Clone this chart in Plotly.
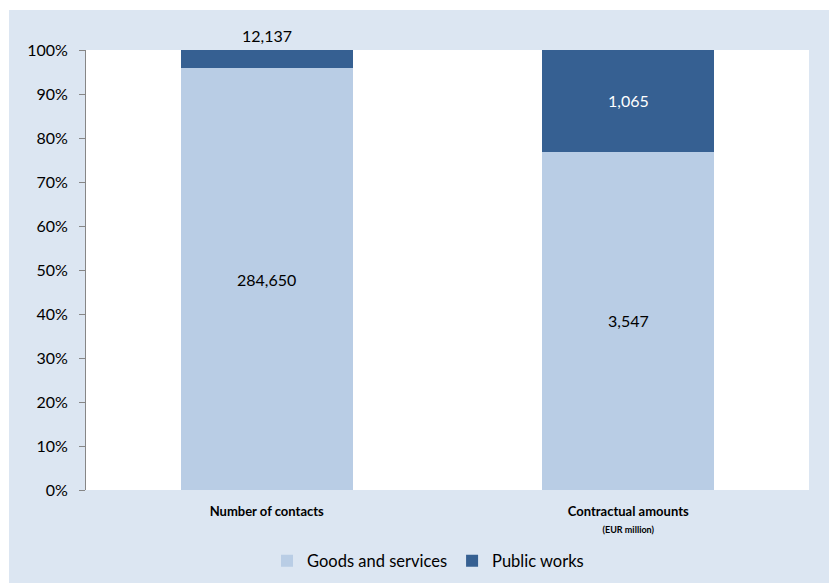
import plotly.graph_objects as go

# Values behind the chart
categories = ["Number of contacts", "Contractual amounts"]
goods_services = [284650, 3547]
public_works = [12137, 1065]
tick_vals = [0, 10, 20, 30, 40, 50, 60, 70, 80, 90, 100]
tick_text = ["0%", "10%", "20%", "30%", "40%", "50%", "60%", "70%", "80%", "90%", "100%"]
category_labels = [
    "<b>Number of contacts</b>",
    "<b>Contractual amounts</b><br><span style='font-size:9px'><b>(EUR million)</b></span>",
]

LIGHT = "#B9CDE5"
DARK = "#366092"
PANEL = "#DCE6F2"
FONT = "Lato"

totals = [g + p for g, p in zip(goods_services, public_works)]
goods_pct = [g / t * 100 for g, t in zip(goods_services, totals)]
works_pct = [p / t * 100 for p, t in zip(public_works, totals)]

fig = go.Figure()
fig.add_trace(go.Bar(
    x=categories, y=goods_pct, name="Goods and services",
    marker=dict(color=LIGHT, line=dict(width=0)),
    hoverinfo="skip",
))
fig.add_trace(go.Bar(
    x=categories, y=works_pct, name="Public works",
    marker=dict(color=DARK, line=dict(width=0)),
    hoverinfo="skip",
))

def fmt(v):
    return f"{v:,}"

annotations = []
for i, cat in enumerate(categories):
    # goods segment label in the middle of the lower block
    annotations.append(dict(
        x=cat, y=goods_pct[i] / 2, xref="x", yref="y", text=fmt(goods_services[i]),
        showarrow=False, font=dict(family=FONT, size=16, color="#000000"),
    ))
    top_h = works_pct[i]
    if top_h < 10:
        annotations.append(dict(
            x=cat, y=100, xref="x", yref="y", text=fmt(public_works[i]),
            showarrow=False, yanchor="bottom", yshift=3,
            font=dict(family=FONT, size=16, color="#000000"),
        ))
    else:
        annotations.append(dict(
            x=cat, y=goods_pct[i] + top_h / 2, xref="x", yref="y", text=fmt(public_works[i]),
            showarrow=False, font=dict(family=FONT, size=16, color="#FFFFFF"),
        ))

# outer panel and white plotting area
W, H = 829, 583
ml, mr, mt, mb = 86, 20, 50, 93
pw, ph = W - ml - mr, H - mt - mb
def px_x(p):
    return (p - ml) / pw
def px_y(p):
    return (H - mb - p) / ph

shapes = [
    dict(type="rect", xref="paper", yref="paper", layer="below",
         x0=px_x(9), x1=px_x(832), y0=px_y(10), y1=px_y(586),
         fillcolor=PANEL, line=dict(width=0)),
    dict(type="rect", xref="paper", yref="paper", layer="below",
         x0=0, x1=1, y0=0, y1=1, fillcolor="#FFFFFF", line=dict(width=0)),
]

fig.update_layout(
    width=W, height=H,
    margin=dict(l=ml, r=mr, t=mt, b=mb, pad=0, autoexpand=False),
    barmode="stack",
    bargap=0.524,
    paper_bgcolor="#FFFFFF",
    plot_bgcolor="#FFFFFF",
    font=dict(family=FONT, color="#000000"),
    shapes=shapes,
    annotations=annotations,
    showlegend=True,
    legend=dict(
        orientation="h", x=px_x(428), xanchor="center", y=px_y(561), yanchor="middle",
        font=dict(family=FONT, size=16.5, color="#000000"),
        bgcolor="rgba(0,0,0,0)", itemwidth=30, traceorder="normal",
    ),
    xaxis=dict(
        tickmode="array", tickvals=categories, ticktext=category_labels,
        tickfont=dict(family=FONT, size=13, color="#000000"),
        showline=False, showgrid=False, ticks="", ticklabelstandoff=12,
        fixedrange=True,
    ),
    yaxis=dict(
        range=[0, 100], tickmode="array", tickvals=tick_vals, ticktext=tick_text,
        tickfont=dict(family=FONT, size=16, color="#000000"),
        showline=True, linecolor="#868686", linewidth=1,
        ticks="outside", ticklen=6, tickcolor="#868686", tickwidth=1,
        ticklabelstandoff=8,
        showgrid=False, zeroline=False, fixedrange=True,
    ),
)

fig.write_html("out.html")
